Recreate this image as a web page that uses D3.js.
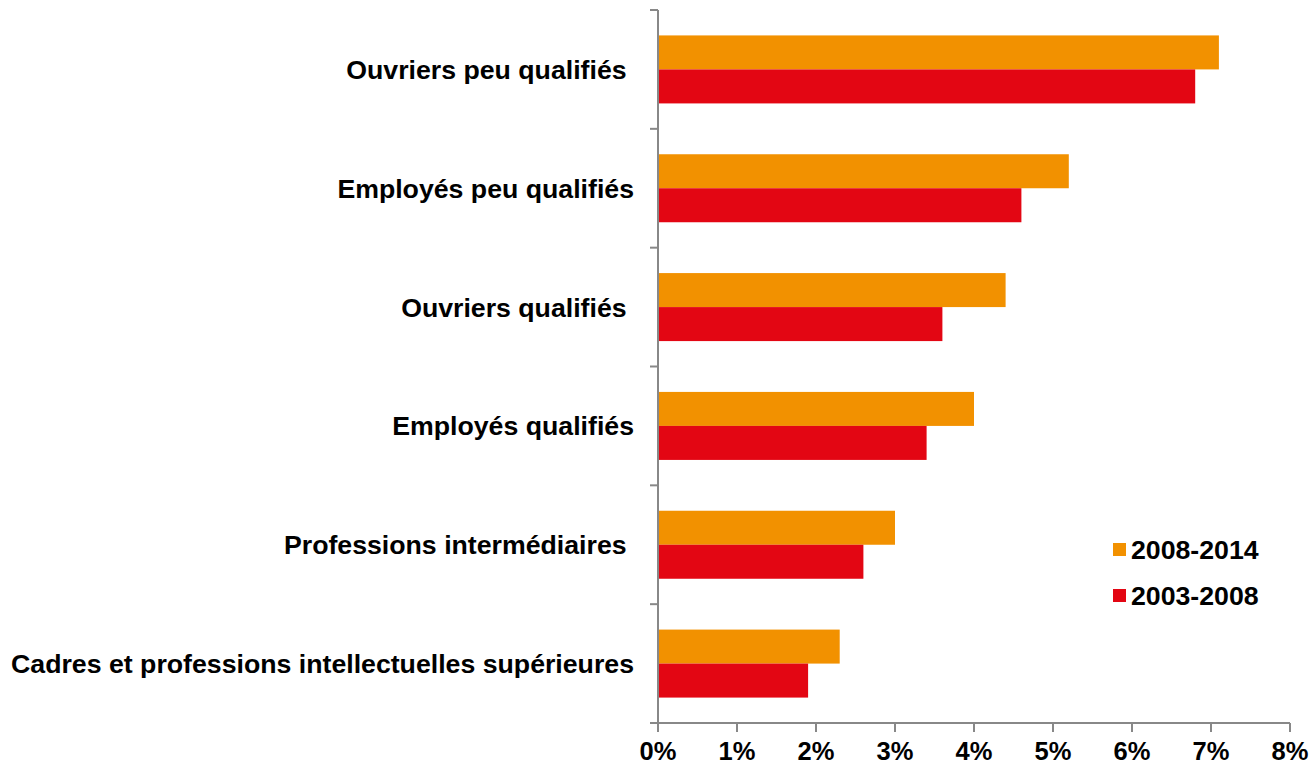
<!DOCTYPE html>
<html><head><meta charset="utf-8">
<script src="https://cdn.jsdelivr.net/npm/d3@7"></script>
<style>body{margin:0;background:#fff}text{font-family:"Liberation Sans",Arial,sans-serif;font-weight:bold;fill:#000}</style>
</head><body><svg id="c" width="1312" height="766"></svg>
<script>
const categories = ["Ouvriers peu qualifiés ", "Employés peu qualifiés", "Ouvriers qualifiés ", "Employés qualifiés", "Professions intermédiaires ", "Cadres et professions intellectuelles supérieures"];
const series2008_2014 = [7.1, 5.2, 4.4, 4.0, 3.0, 2.3];
const series2003_2008 = [6.8, 4.6, 3.6, 3.4, 2.6, 1.9];
const seriesNames = ["2008-2014", "2003-2008"];
const colors = ["#F29100", "#E30613"];
const xTicks = [0,1,2,3,4,5,6,7,8];

const svg = d3.select("#c");
const x = d3.scaleLinear().domain([0,8]).range([658,1290]);
const y = d3.scaleBand().domain(categories).range([10,723]);
const inner = d3.scaleBand().domain(seriesNames).range([0,68]);
const off = (y.bandwidth()-68)/2;

const series = [series2008_2014, series2003_2008];
series.forEach((vals,si)=>{
  svg.append("g").selectAll("rect").data(categories).join("rect")
    .attr("x", x(0))
    .attr("y", d=>y(d)+off+inner(seriesNames[si]))
    .attr("width", (d,i)=>x(vals[i])-x(0))
    .attr("height", inner.bandwidth())
    .attr("fill", colors[si]);
});

// y axis
const ya = svg.append("g");
ya.append("line").attr("x1",658).attr("x2",658).attr("y1",10).attr("y2",723).attr("stroke","#888").attr("stroke-width",2);
const yt = [...categories.map(c=>y(c)), 723];
ya.selectAll(".t").data(yt).join("line").attr("x1",650).attr("x2",658).attr("y1",d=>d).attr("y2",d=>d).attr("stroke","#888").attr("stroke-width",2);
ya.selectAll("text").data(categories).join("text")
  .attr("x",634).attr("y",d=>y(d)+y.bandwidth()/2+9.5)
  .attr("text-anchor","end").attr("font-size",26.7).style("white-space","pre")
  .text(d=>d);

// x axis
const xa = svg.append("g").attr("transform","translate(0,723)");
xa.append("line").attr("x1",650).attr("x2",1290).attr("stroke","#888").attr("stroke-width",2);
xa.selectAll(".t").data(xTicks).join("line").attr("x1",d=>x(d)).attr("x2",d=>x(d)).attr("y1",0).attr("y2",9).attr("stroke","#888").attr("stroke-width",2);
xa.selectAll("text").data(xTicks).join("text")
  .attr("x",d=>x(d)).attr("y",37).attr("text-anchor","middle").attr("font-size",25.5)
  .text(d=>d+"%");

// legend
const lg = svg.append("g");
seriesNames.forEach((n,i)=>{
  const yy = 543 + i*46;
  lg.append("rect").attr("x",1113).attr("y",yy).attr("width",13).attr("height",13).attr("fill",colors[i]);
  lg.append("text").attr("x",1131).attr("y",yy+16).attr("font-size",26.7).text(n);
});
</script></body></html>
